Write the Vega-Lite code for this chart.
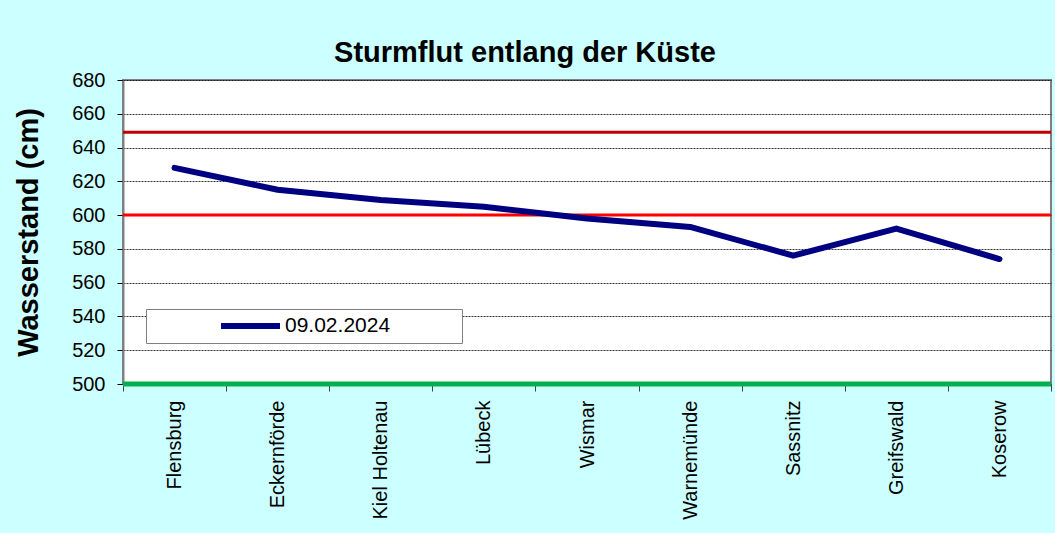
{
  "$schema": "https://vega.github.io/schema/vega-lite/v6.json",
  "width": 928,
  "height": 304,
  "autosize": {"type": "none"},
  "padding": {"left": 123, "top": 80, "right": 4, "bottom": 149},
  "background": "#CCFFFF",
  "title": {
    "text": "Sturmflut entlang der Küste",
    "font": "Liberation Sans",
    "fontSize": 29,
    "fontWeight": "bold",
    "color": "#000000",
    "anchor": "middle",
    "dx": -62,
    "offset": 2
  },
  "config": {
    "view": {"fill": "#FFFFFF", "stroke": "#808080", "strokeWidth": 2},
    "font": "Liberation Sans",
    "axisY": {
      "titleFontSize": 29,
      "titleFontWeight": "bold",
      "titleColor": "#000000",
      "titlePadding": 28,
      "labelFontSize": 20,
      "labelColor": "#000000",
      "labelPadding": 12,
      "labelOverlap": false,
      "labelFlush": false,
      "tickSize": 6,
      "tickColor": "#000000",
      "domainColor": "#808080",
      "domainWidth": 2,
      "grid": true,
      "gridColor": "#000000",
      "gridDash": [2, 1],
      "gridWidth": 1,
      "gridOpacity": 0.8
    }
  },
  "datasets": {
    "levels": [
      {"station": "Flensburg", "wasserstand": 628, "datum": "09.02.2024"},
      {"station": "Eckernförde", "wasserstand": 615, "datum": "09.02.2024"},
      {"station": "Kiel Holtenau", "wasserstand": 609, "datum": "09.02.2024"},
      {"station": "Lübeck", "wasserstand": 605, "datum": "09.02.2024"},
      {"station": "Wismar", "wasserstand": 598, "datum": "09.02.2024"},
      {"station": "Warnemünde", "wasserstand": 593, "datum": "09.02.2024"},
      {"station": "Sassnitz", "wasserstand": 576, "datum": "09.02.2024"},
      {"station": "Greifswald", "wasserstand": 592, "datum": "09.02.2024"},
      {"station": "Koserow", "wasserstand": 574, "datum": "09.02.2024"}
    ],
    "thresholds": [
      {"wasserstand": 649, "kind": "high"},
      {"wasserstand": 600, "kind": "mid"},
      {"wasserstand": 500, "kind": "base"}
    ]
  },
  "encoding": {
    "y": {
      "field": "wasserstand",
      "type": "quantitative",
      "scale": {"domain": [500, 680], "nice": false, "zero": false},
      "axis": {
        "title": "Wasserstand (cm)",
        "values": [500, 520, 540, 560, 580, 600, 620, 640, 660, 680]
      }
    }
  },
  "layer": [
    {
      "data": {"name": "thresholds"},
      "transform": [{"filter": "datum.kind === 'high'"}],
      "mark": {"type": "rule", "color": "#C00000", "strokeWidth": 3}
    },
    {
      "data": {"name": "thresholds"},
      "transform": [{"filter": "datum.kind === 'mid'"}],
      "mark": {"type": "rule", "color": "#FF0000", "strokeWidth": 3}
    },
    {
      "data": {"name": "levels"},
      "mark": {"type": "line", "stroke": "#000080", "strokeWidth": 6, "strokeCap": "round", "strokeJoin": "round"},
      "encoding": {
        "x": {
          "field": "station",
          "type": "nominal",
          "sort": null,
          "scale": {"type": "band", "paddingInner": 0, "paddingOuter": 0},
          "axis": {
            "title": null,
            "labelAngle": -90,
            "labelFontSize": 20,
            "labelColor": "#000000",
            "labelPadding": 9,
            "labelOverlap": false,
            "tickBand": "extent",
            "tickSize": 7,
            "tickColor": "#444444",
            "domain": false,
            "grid": false
          }
        },
        "color": {
          "field": "datum",
          "type": "nominal",
          "scale": {"range": ["#000080"]},
          "legend": {
            "title": "\u00a0",
            "titleOrient": "right",
            "titlePadding": 66,
            "titleFontSize": 21,
            "orient": "none",
            "legendX": 23,
            "legendY": 229,
            "symbolType": "stroke",
            "symbolSize": 3481,
            "symbolStrokeWidth": 6,
            "symbolStrokeColor": "#000080",
            "symbolOffset": 66,
            "clipHeight": 22,
            "labelFontSize": 21,
            "labelColor": "#000000",
            "labelOffset": 2,
            "labelLimit": 400,
            "padding": 6,
            "fillColor": "#FFFFFF",
            "strokeColor": "#808080",
            "cornerRadius": 0
          }
        }
      }
    },
    {
      "data": {"name": "thresholds"},
      "transform": [{"filter": "datum.kind === 'base'"}],
      "mark": {"type": "rule", "color": "#00B050", "strokeWidth": 5}
    }
  ]
}
